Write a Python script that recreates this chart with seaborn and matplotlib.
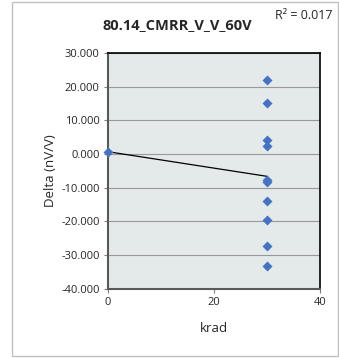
import numpy as np
import pandas as pd
import matplotlib
matplotlib.use('Agg')
import matplotlib.pyplot as plt
import seaborn as sns
from matplotlib.patches import Rectangle

# data
krad = [0, 30, 30, 30, 30, 30, 30, 30, 30, 30, 30]
delta = [0.7, 22.0, 15.3, 4.1, 2.5, -7.8, -8.3, -13.8, -19.5, -27.3, -33.2]
x_ticks = [0, 20, 40]
y_ticks = [-40, -30, -20, -10, 0, 10, 20, 30]
title = '80.14_CMRR_V_V_60V'

df = pd.DataFrame({'krad': krad, 'delta': delta})

# linear trend line + R^2
slope, intercept = np.polyfit(df['krad'], df['delta'], 1)
fit = slope * df['krad'] + intercept
r2 = 1 - ((df['delta'] - fit) ** 2).sum() / ((df['delta'] - df['delta'].mean()) ** 2).sum()

sns.set_style('white')
plt.rcParams['font.family'] = ['Open Sans', 'DejaVu Sans']

fig = plt.figure(figsize=(3.39, 3.58), dpi=100)
ax = fig.add_axes([0.319, 0.193, 0.625, 0.659])
ax.set_facecolor('#E4EAEA')

xl = np.array([df['krad'].min(), df['krad'].max()])
ax.plot(xl, slope * xl + intercept, color='black', lw=0.9, zorder=2)
sns.scatterplot(data=df, x='krad', y='delta', marker='D', s=26, color='#4472C4',
                edgecolor='#4472C4', linewidth=0, ax=ax, zorder=3, clip_on=False)

ax.set_xlim(0, 40)
ax.set_ylim(-40, 30)
ax.set_xticks(x_ticks)
ax.set_yticks(y_ticks)
ax.set_yticklabels([f'{v:.3f}' for v in y_ticks])
ax.yaxis.grid(True, color='#999999', lw=0.8)
ax.set_axisbelow(True)
ax.tick_params(axis='both', labelsize=8, length=3, width=0.8, color='#7F7F7F',
               direction='out', pad=3)
ax.tick_params(left=True, bottom=True)

for side in ['left', 'bottom']:
    ax.spines[side].set_color('#595959')
    ax.spines[side].set_linewidth(1.5)
for side in ['top', 'right']:
    ax.spines[side].set_color('black')
    ax.spines[side].set_linewidth(1.2)

ax.set_xlabel('krad', fontsize=9.5, labelpad=10)
ax.set_ylabel('Delta (nV/V)', fontsize=9.5, labelpad=3)

fig.text(0.522, 0.93, title, ha='center', va='center', fontsize=10.5, fontweight='bold')
fig.text(0.81, 0.958, f'R\u00b2 = {r2:.3f}', ha='left', va='center', fontsize=9)

fig.patches.append(Rectangle((12 / 339, 2 / 358), 326 / 339, 354 / 358, transform=fig.transFigure,
                             fill=False, edgecolor='#BFBFBF', lw=1))

plt.savefig('out.png', dpi=100)
